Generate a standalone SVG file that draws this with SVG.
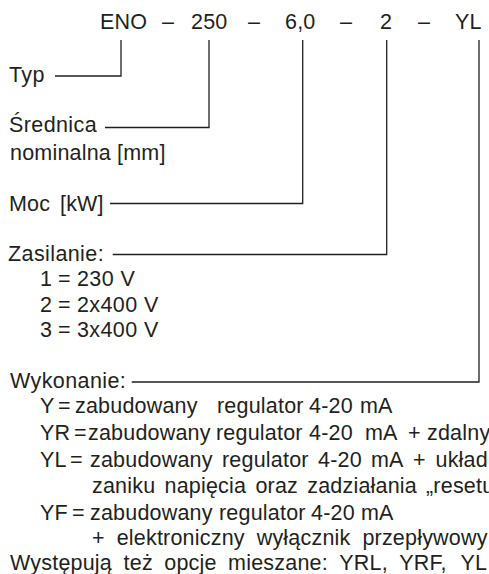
<svg xmlns="http://www.w3.org/2000/svg" width="489" height="574" viewBox="0 0 489 574">
<style>
text{font-family:"Liberation Sans",Arial,sans-serif;font-size:21.5px;fill:#231f20;letter-spacing:0.2px}
.l{letter-spacing:0.4px}
.c{fill:none;stroke:#231f20;stroke-width:1.3}
</style>
<rect width="489" height="574" fill="#fff"/>
<g id="header">
<text y="29"><tspan x="100">ENO</tspan><tspan x="162">–</tspan><tspan x="191">250</tspan><tspan x="248">–</tspan><tspan x="285">6,0</tspan><tspan x="340">–</tspan><tspan x="380">2</tspan><tspan x="418">–</tspan><tspan x="455">YL</tspan></text>
</g>
<g id="typ"><text class="l" x="9" y="81.5">Typ</text></g>
<g id="srednica"><text class="l" x="9" y="132">Średnica</text><text y="160"><tspan x="10">nominalna</tspan><tspan x="117">[mm]</tspan></text></g>
<g id="moc"><text y="210.5"><tspan x="9">Moc</tspan><tspan x="60">[kW]</tspan></text></g>
<g id="zasilanie">
<text class="l" x="8" y="260.5">Zasilanie:</text>
<text class="l" y="286"><tspan x="40">1</tspan><tspan x="58">=</tspan><tspan x="77">230 V</tspan></text>
<text class="l" y="311.5"><tspan x="40">2</tspan><tspan x="58">=</tspan><tspan x="77">2x400 V</tspan></text>
<text class="l" y="337"><tspan x="40">3</tspan><tspan x="58">=</tspan><tspan x="77">3x400 V</tspan></text>
</g>
<g id="wykonanie">
<text class="l" x="10" y="388">Wykonanie:</text>
<text y="413"><tspan x="40">Y</tspan><tspan x="58">=</tspan><tspan x="75">zabudowany</tspan><tspan x="217">regulator</tspan><tspan x="309">4-20</tspan><tspan x="360">mA</tspan></text>
<text y="440"><tspan x="40">YR</tspan><tspan x="74">=</tspan><tspan x="88">zabudowany</tspan><tspan x="216">regulator</tspan><tspan x="309">4-20</tspan><tspan x="365">mA</tspan><tspan x="408">+</tspan><tspan x="427">zdalny</tspan></text>
<text y="466.5"><tspan x="40">YL</tspan><tspan x="70">=</tspan><tspan x="90">zabudowany</tspan><tspan x="222">regulator</tspan><tspan x="318">4-20</tspan><tspan x="371">mA</tspan><tspan x="413">+</tspan><tspan x="435.5">układ</tspan></text>
<text y="493"><tspan x="92">zaniku</tspan><tspan x="164.5">napięcia</tspan><tspan x="255.4">oraz</tspan><tspan x="307.2">zadziałania</tspan><tspan x="426">„resetu</tspan></text>
<text y="519.5"><tspan x="40">YF</tspan><tspan x="72">=</tspan><tspan x="90">zabudowany</tspan><tspan x="219">regulator</tspan><tspan x="311">4-20</tspan><tspan x="361">mA</tspan></text>
<text y="545"><tspan x="92">+</tspan><tspan x="116.7">elektroniczny</tspan><tspan x="256.7">wyłącznik</tspan><tspan x="362.4">przepływowy</tspan></text>
<text y="569.5"><tspan x="10">Występują</tspan><tspan x="123.6">też</tspan><tspan x="164.3">opcje</tspan><tspan x="228.1">mieszane:</tspan><tspan x="339.3">YRL,</tspan><tspan x="399.3">YRF,</tspan><tspan x="460.5">YL</tspan></text>
</g>
<g id="connectors">
<path class="c" d="M121 40V76H55"/>
<path class="c" d="M209 40V127.5H105"/>
<path class="c" d="M302.7 40V203.5H110"/>
<path class="c" d="M386.7 40V254.5H112.7"/>
<path class="c" d="M479 40V382H131.7"/>
</g>
</svg>
